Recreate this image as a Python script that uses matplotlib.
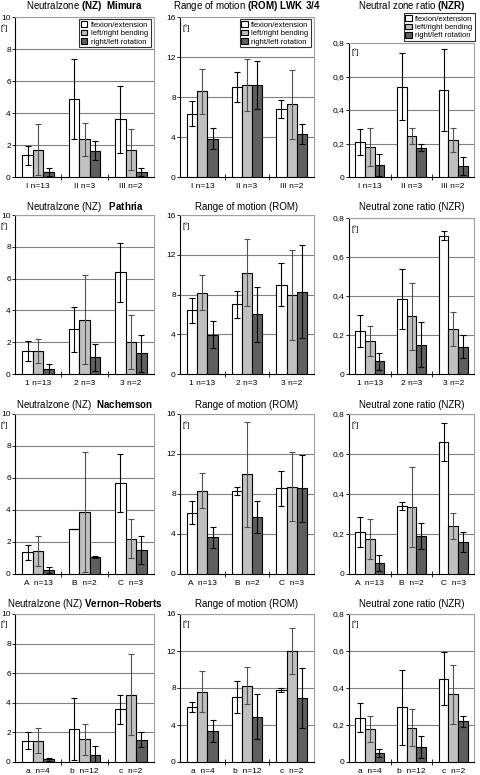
import numpy as np
import matplotlib
matplotlib.use("Agg")
import matplotlib.pyplot as plt
from matplotlib.patches import Patch

plt.rcParams['font.family'] = ['Liberation Sans', 'DejaVu Sans']
plt.rcParams['mathtext.fontset'] = 'custom'
plt.rcParams['mathtext.rm'] = 'Liberation Sans'
plt.rcParams['mathtext.bf'] = 'Liberation Sans:bold'

series = ['flexion/extension', 'left/right bending', 'right/left rotation']
colors = ['white', '#c0c0c0', '#5f5f5f']
err_colors = ['black', '#505050', 'black']

# group labels per study
mimura_groups = ['I n=13', 'II n=3', 'III n=2']
pathria_groups = ['1 n=13', '2 n=3', '3 n=2']
nachemson_groups = ['A  n=13', 'B  n=2', 'C  n=3']
vernon_groups = ['a  n=4', 'b  n=12', 'c  n=2']

# means and standard deviations, rows = flex, bend, rot
mimura_nz = [[1.35, 4.9, 3.6], [1.7, 2.35, 1.7], [0.3, 1.65, 0.3]]
mimura_nz_sd = [[0.6, 2.5, 2.1], [1.6, 1.05, 1.28], [0.25, 0.58, 0.25]]
mimura_rom = [[6.35, 9.0, 6.8], [8.6, 9.2, 7.3], [3.85, 9.2, 4.3]]
mimura_rom_sd = [[1.25, 1.5, 0.9], [2.25, 2.6, 3.45], [1.05, 2.4, 1.0]]
mimura_nzr = [[0.21, 0.54, 0.52], [0.18, 0.245, 0.22], [0.07, 0.175, 0.065]]
mimura_nzr_sd = [[0.077, 0.2, 0.245], [0.115, 0.047, 0.072], [0.065, 0.022, 0.052]]

pathria_nz = [[1.45, 2.8, 6.4], [1.45, 3.4, 2.0], [0.3, 1.05, 1.3]]
pathria_nz_sd = [[0.65, 1.4, 1.85], [0.78, 2.8, 1.7], [0.3, 0.85, 1.15]]
pathria_rom = [[6.4, 7.0, 9.0], [8.2, 10.2, 7.95], [3.95, 6.0, 8.3]]
pathria_rom_sd = [[1.27, 1.35, 2.2], [1.8, 3.4, 4.5], [1.35, 2.8, 4.7]]
pathria_nzr = [[0.22, 0.385, 0.71], [0.17, 0.295, 0.23], [0.065, 0.15, 0.14]]
pathria_nzr_sd = [[0.083, 0.153, 0.025], [0.078, 0.17, 0.088], [0.045, 0.115, 0.058]]

nachemson_nz = [[1.35, 2.8, 5.7], [1.45, 3.85, 2.2], [0.25, 1.05, 1.5]]
nachemson_nz_sd = [[0.48, 0.0, 1.83], [0.92, 3.75, 1.23], [0.17, 0.07, 0.85]]
nachemson_rom = [[6.15, 8.35, 8.6], [8.35, 10.0, 8.75], [3.7, 5.7, 8.6]]
nachemson_rom_sd = [[1.15, 0.4, 1.75], [1.75, 5.25, 3.45], [1.05, 1.6, 3.35]]
nachemson_nzr = [[0.21, 0.34, 0.66], [0.175, 0.335, 0.24], [0.055, 0.19, 0.16]]
nachemson_nzr_sd = [[0.075, 0.018, 0.093], [0.098, 0.2, 0.063], [0.04, 0.065, 0.05]]

vernon_nz = [[1.45, 2.25, 3.55], [1.45, 1.55, 4.55], [0.2, 0.5, 1.5]]
vernon_nz_sd = [[0.55, 2.1, 0.98], [0.85, 1.05, 2.73], [0.1, 0.55, 0.5]]
vernon_rom = [[5.95, 7.0, 7.8], [7.6, 8.25, 12.0], [3.35, 4.9, 6.9]]
vernon_rom_sd = [[0.5, 1.75, 0.23], [2.2, 2.0, 2.45], [1.2, 2.4, 3.23]]
vernon_nzr = [[0.24, 0.295, 0.45], [0.18, 0.185, 0.365], [0.05, 0.08, 0.22]]
vernon_nzr_sd = [[0.078, 0.205, 0.143], [0.07, 0.1, 0.158], [0.022, 0.06, 0.03]]

nz_ticks = [0, 2, 4, 6, 8, 10]
rom_ticks = [0, 4, 8, 12, 16]
nzr_ticks = [0, 0.2, 0.4, 0.6, 0.8]
nzr_ticklabels = ['0', '0,2', '0,4', '0,6', '0,8']

titles = [
    [r'Neutralzone $\mathbf{(NZ)}$  $\mathbf{Mimura}$',
     r'Range of motion $\mathbf{(ROM)\ LWK\ 3/4}$',
     r'Neutral zone ratio $\mathbf{(NZR)}$'],
    [r'Neutralzone (NZ)   $\mathbf{Pathria}$', 'Range of motion (ROM)', 'Neutral zone ratio (NZR)'],
    [r'Neutralzone (NZ)  $\mathbf{Nachemson}$', 'Range of motion (ROM)', 'Neutral zone ratio (NZR)'],
    [r'Neutralzone (NZ) $\mathbf{Vernon\!-\!Roberts}$', 'Range of motion (ROM)', 'Neutral zone ratio (NZR)'],
]
groups = [mimura_groups, pathria_groups, nachemson_groups, vernon_groups]
data = [
    [(mimura_nz, mimura_nz_sd), (mimura_rom, mimura_rom_sd), (mimura_nzr, mimura_nzr_sd)],
    [(pathria_nz, pathria_nz_sd), (pathria_rom, pathria_rom_sd), (pathria_nzr, pathria_nzr_sd)],
    [(nachemson_nz, nachemson_nz_sd), (nachemson_rom, nachemson_rom_sd), (nachemson_nzr, nachemson_nzr_sd)],
    [(vernon_nz, vernon_nz_sd), (vernon_rom, vernon_rom_sd), (vernon_nzr, vernon_nzr_sd)],
]

W, H = 480, 775
fig = plt.figure(figsize=(4.8, 7.75), dpi=100)

# pixel boxes
col_x = [(15, 154), (180, 314), (349, 474)]
row_y = [(17, 177), (215, 374), (414, 574), (614, 762)]
title_y = [6, 207, 405, 604]

for r in range(4):
    for c in range(3):
        x0, x1 = col_x[c]
        y0, y1 = row_y[r]
        if r == 0 and c == 2:
            y0 = 43
        if c == 2 and r == 1:
            y0 = 218
        ax = fig.add_axes([x0 / W, 1 - y1 / H, (x1 - x0) / W, (y1 - y0) / H])
        means, sds = data[r][c]
        x = np.arange(3)
        w = 0.23
        for i in range(3):
            ax.bar(x + (i - 1) * w, means[i], w, color=colors[i], edgecolor='black',
                   linewidth=0.8, zorder=3, label=series[i])
            ax.errorbar(x + (i - 1) * w, means[i], yerr=sds[i], fmt='none',
                        ecolor=err_colors[i], elinewidth=0.8, capsize=2.5,
                        capthick=0.8, zorder=4)
        if c == 0:
            ticks, labels, top = nz_ticks, [str(t) for t in nz_ticks], 10
        elif c == 1:
            ticks, labels, top = rom_ticks, [str(t) for t in rom_ticks], 16
        else:
            ticks, labels, top = nzr_ticks, nzr_ticklabels, 0.8
        ax.set_ylim(0, top)
        ax.set_yticks(ticks)
        ax.set_yticklabels(labels, fontsize=6)
        ax.set_xlim(-0.5, 2.5)
        ax.set_xticks(x)
        ax.set_xticklabels(groups[r], fontsize=6)
        ax.set_xticks([0.5, 1.5], minor=True)
        ax.tick_params(axis='x', which='major', length=0, pad=4)
        ax.tick_params(axis='x', which='minor', length=4, direction='inout', width=0.6)
        ax.tick_params(axis='y', length=2, width=0.6, pad=1)
        for t in ticks[1:]:
            ax.axhline(t, color='#808080', linewidth=0.8, zorder=1)
        for s in ['top', 'right']:
            ax.spines[s].set_color('#a0a0a0')
        for s in ['left', 'bottom']:
            ax.spines[s].set_color('black')
            ax.spines[s].set_linewidth(0.8)
        if c == 0:
            ax.annotate('[°]', xy=(0, top * 0.93), xycoords=('axes fraction', 'data'),
                        xytext=(-5, 0), textcoords='offset points',
                        ha='right', va='center', fontsize=5.5)
        else:
            ax.annotate('[°]', xy=(0, top * 0.93), xycoords=('axes fraction', 'data'),
                        xytext=(1.5, 0), textcoords='offset points',
                        ha='left', va='center', fontsize=5.5)
        ty = 6 if (r == 0 and c == 2) else title_y[r]
        fig.text((x0 + x1) / 2 / W, 1 - ty / H, titles[r][c], ha='center', va='center',
                 fontsize=7)
        if r == 0:
            handles = [Patch(facecolor=colors[i], edgecolor='black', linewidth=0.8) for i in range(3)]
            legkw = dict(fontsize=5.5, handlelength=0.8, handleheight=0.8, borderpad=0.25,
                         labelspacing=0.1, handletextpad=0.5, borderaxespad=0, fancybox=False)
            if c < 2:
                leg = ax.legend(handles, series, loc='upper right', bbox_to_anchor=(0.975, 0.985), **legkw)
            else:
                leg = ax.legend(handles, series, loc='lower right', bbox_to_anchor=(1.005, 1.012), **legkw)
            leg.get_frame().set_edgecolor('black')
            leg.get_frame().set_linewidth(0.8)

plt.savefig('out.png', dpi=100)
